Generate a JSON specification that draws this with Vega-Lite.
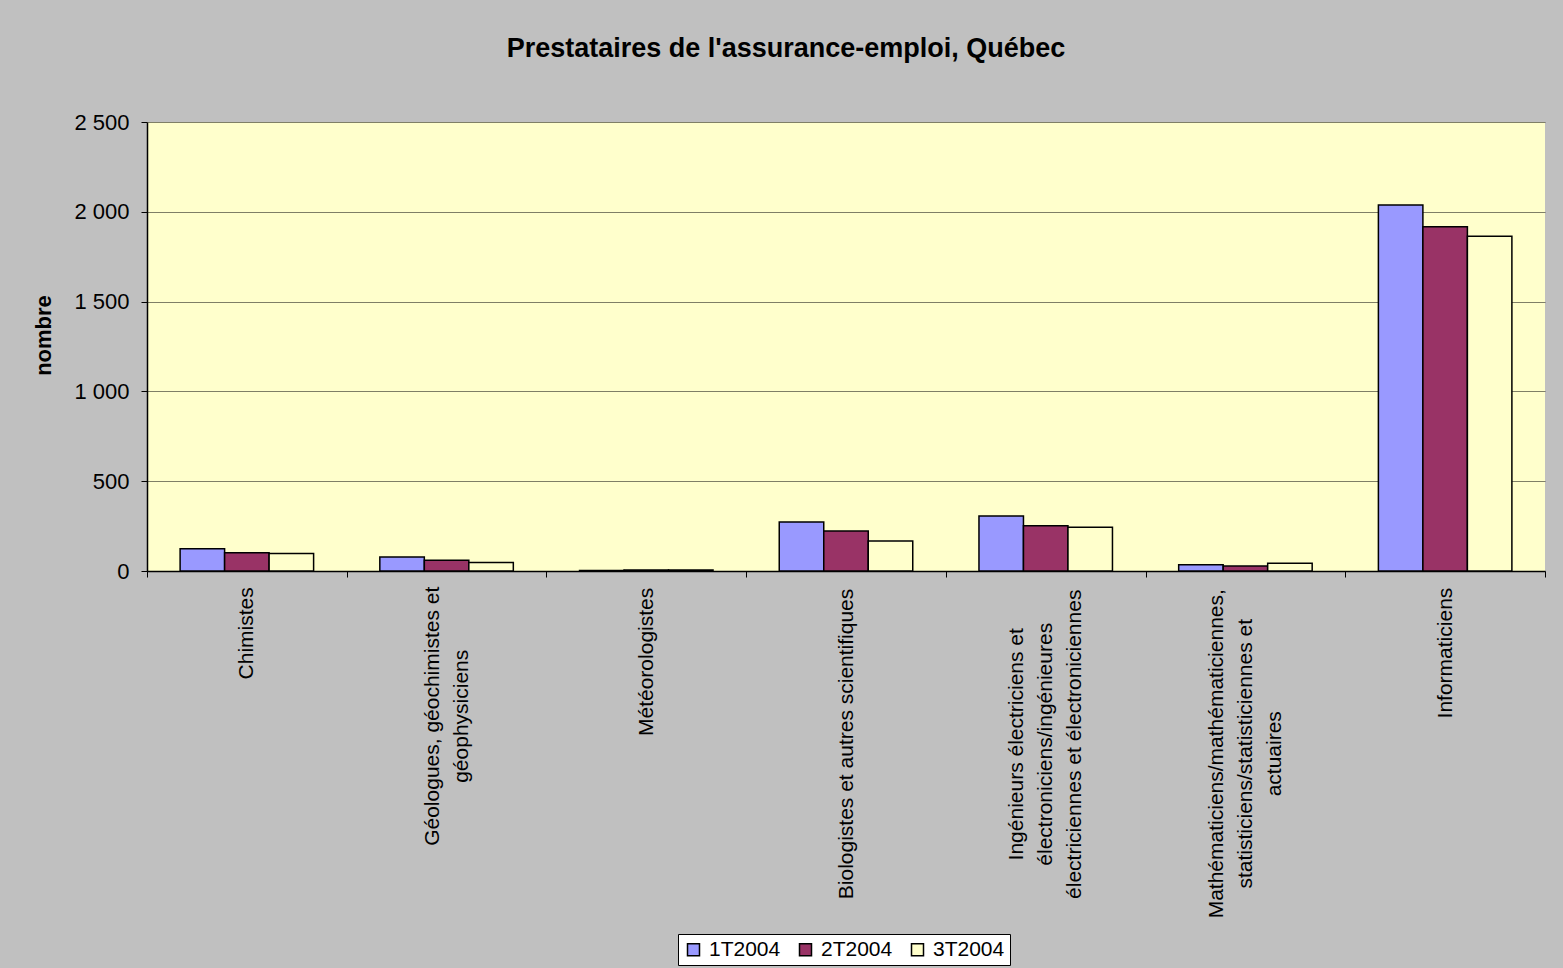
{
  "$schema": "https://vega.github.io/schema/vega-lite/v6.json",
  "width": 1398,
  "height": 449,
  "autosize": {"type": "none"},
  "padding": {"left": 147, "top": 122, "right": 18, "bottom": 397},
  "background": "#c0c0c0",
  "title": {
    "text": "Prestataires de l'assurance-emploi, Québec",
    "font": "Liberation Sans",
    "fontSize": 27,
    "fontWeight": "bold",
    "color": "black",
    "anchor": "middle",
    "frame": "group",
    "dx": -60,
    "offset": 48
  },
  "data": {
    "values": [
      {"cat": "Chimistes", "trimestre": "1T2004", "valeur": 124},
      {"cat": "Chimistes", "trimestre": "2T2004", "valeur": 102},
      {"cat": "Chimistes", "trimestre": "3T2004", "valeur": 98},
      {"cat": "Géologues, géochimistes et\ngéophysiciens", "trimestre": "1T2004", "valeur": 78},
      {"cat": "Géologues, géochimistes et\ngéophysiciens", "trimestre": "2T2004", "valeur": 60},
      {"cat": "Géologues, géochimistes et\ngéophysiciens", "trimestre": "3T2004", "valeur": 48},
      {"cat": "Météorologistes", "trimestre": "1T2004", "valeur": 3},
      {"cat": "Météorologistes", "trimestre": "2T2004", "valeur": 5},
      {"cat": "Météorologistes", "trimestre": "3T2004", "valeur": 6},
      {"cat": "Biologistes et autres scientifiques", "trimestre": "1T2004", "valeur": 273},
      {"cat": "Biologistes et autres scientifiques", "trimestre": "2T2004", "valeur": 223},
      {"cat": "Biologistes et autres scientifiques", "trimestre": "3T2004", "valeur": 167},
      {"cat": "Ingénieurs électriciens et\nélectroniciens/ingénieures\nélectriciennes et électroniciennes", "trimestre": "1T2004", "valeur": 306},
      {"cat": "Ingénieurs électriciens et\nélectroniciens/ingénieures\nélectriciennes et électroniciennes", "trimestre": "2T2004", "valeur": 252},
      {"cat": "Ingénieurs électriciens et\nélectroniciens/ingénieures\nélectriciennes et électroniciennes", "trimestre": "3T2004", "valeur": 243},
      {"cat": "Mathématiciens/mathématiciennes,\nstatisticiens/statisticiennes et\nactuaires", "trimestre": "1T2004", "valeur": 35},
      {"cat": "Mathématiciens/mathématiciennes,\nstatisticiens/statisticiennes et\nactuaires", "trimestre": "2T2004", "valeur": 28},
      {"cat": "Mathématiciens/mathématiciennes,\nstatisticiens/statisticiennes et\nactuaires", "trimestre": "3T2004", "valeur": 43},
      {"cat": "Informaticiens", "trimestre": "1T2004", "valeur": 2038},
      {"cat": "Informaticiens", "trimestre": "2T2004", "valeur": 1917},
      {"cat": "Informaticiens", "trimestre": "3T2004", "valeur": 1864}
    ]
  },
  "mark": {"type": "bar", "stroke": "black", "strokeWidth": 1.5},
  "encoding": {
    "x": {
      "field": "cat",
      "type": "nominal",
      "sort": null,
      "scale": {"paddingInner": 0, "paddingOuter": 0},
      "axis": {
        "title": null,
        "tickBand": "extent",
        "labelAngle": -90,
        "labelAlign": "center",
        "labelBaseline": "middle",
        "labelPadding": {"expr": "10 + max((11.403*length(split(datum.label,'\\n')[0])+6.09*length(replace(split(datum.label,'\\n')[0],/[ijltfrI ,\\/]/g,''))-5.943*length(replace(split(datum.label,'\\n')[0],/[mMwW]/g,''))), length(split(datum.label,'\\n'))>1 ? (11.403*length(split(datum.label,'\\n')[1])+6.09*length(replace(split(datum.label,'\\n')[1],/[ijltfrI ,\\/]/g,''))-5.943*length(replace(split(datum.label,'\\n')[1],/[mMwW]/g,''))) : 0, length(split(datum.label,'\\n'))>2 ? (11.403*length(split(datum.label,'\\n')[2])+6.09*length(replace(split(datum.label,'\\n')[2],/[ijltfrI ,\\/]/g,''))-5.943*length(replace(split(datum.label,'\\n')[2],/[mMwW]/g,''))) : 0)/2"},
        "labelOffset": {"expr": "-(length(split(datum.label,'\\n'))-1)*14.5"},
        "labelLimit": 400,
        "labelFontSize": 21,
        "labelLineHeight": 29,
        "labelExpr": "split(datum.label, '\\n')",
        "grid": false
      }
    },
    "xOffset": {
      "field": "trimestre",
      "type": "nominal",
      "scale": {"paddingOuter": 0.744, "paddingInner": 0}
    },
    "y": {
      "field": "valeur",
      "type": "quantitative",
      "scale": {"domain": [0, 2500], "nice": false},
      "axis": {
        "title": "nombre",
        "titleFontSize": 22,
        "titleY": 213,
        "values": [0, 500, 1000, 1500, 2000, 2500],
        "labelExpr": "replace(format(datum.value, ','), ',', ' ')",
        "labelFontSize": 22,
        "grid": true,
        "gridColor": "black",
        "gridOpacity": 0.5,
        "labelPadding": 12,
        "titlePadding": 18
      }
    },
    "color": {
      "field": "trimestre",
      "type": "nominal",
      "scale": {"domain": ["1T2004", "2T2004", "3T2004"], "range": ["#9999ff", "#993366", "#ffffcc"]},
      "legend": {
        "title": null,
        "orient": "none",
        "legendX": 531,
        "legendY": 812,
        "direction": "horizontal",
        "fillColor": "white",
        "strokeColor": "black",
        "padding": 5,
        "symbolType": "square",
        "symbolSize": 144,
        "symbolStrokeColor": "black",
        "symbolStrokeWidth": 1.5,
        "symbolOpacity": 1,
        "labelFont": "Liberation Sans",
        "labelFontSize": 21,
        "labelColor": "black",
        "labelOffset": 5,
        "columnPadding": 14
      }
    }
  },
  "config": {
    "view": {"stroke": null, "fill": "#ffffcc"},
    "axis": {
      "labelFont": "Liberation Sans",
      "labelFontSize": 20,
      "labelColor": "black",
      "titleFont": "Liberation Sans",
      "titleFontSize": 20,
      "titleFontWeight": "bold",
      "titleColor": "black",
      "domainColor": "black",
      "domainWidth": 1.5,
      "tickColor": "black",
      "tickWidth": 1,
      "tickSize": 6
    }
  }
}
